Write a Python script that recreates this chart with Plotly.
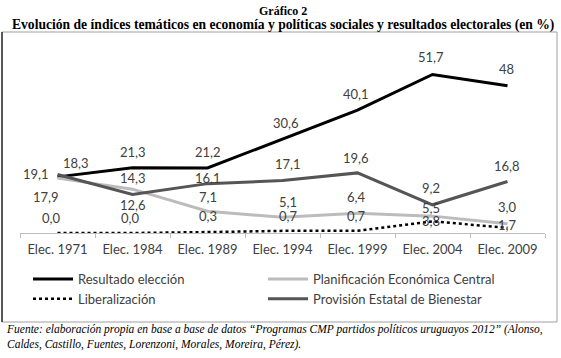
import plotly.graph_objects as go

categories = ["Elec. 1971", "Elec. 1984", "Elec. 1989", "Elec. 1994", "Elec. 1999", "Elec. 2004", "Elec. 2009"]
resultado = [18.3, 21.3, 21.2, 30.6, 40.1, 51.7, 48]
planificacion = [17.9, 14.3, 7.1, 5.1, 6.4, 5.5, 3.0]
liberalizacion = [0.0, 0.0, 0.3, 0.7, 0.7, 3.8, 1.7]
provision = [19.1, 12.6, 16.1, 17.1, 19.6, 9.2, 16.8]

resultado_txt = ["18,3", "21,3", "21,2", "30,6", "40,1", "51,7", "48"]
planificacion_txt = ["17,9", "14,3", "7,1", "5,1", "6,4", "5,5", "3,0"]
liberalizacion_txt = ["0,0", "0,0", "0,3", "0,7", "0,7", "3,8", "1,7"]
provision_txt = ["19,1", "12,6", "16,1", "17,1", "19,6", "9,2", "16,8"]

# label offsets (pixels) relative to each point
res_off = [(18, 14), (0, 16), (0, 16), (3, 16), (-2, 16), (-2, 17), (-1, 17)]
pla_off = [(-12, -19), (0, 11), (0, 14), (5, 15), (-2, 16), (-2, 8), (-1, 17)]
lib_off = [(-7, 15), (-3, 15), (0, 16), (5, 15), (-2, 15), (-2, 0), (-1, 3)]
pro_off = [(-22, 0), (0, -11), (0, 6), (5, 17), (-2, 15), (-2, 17), (-1, 15)]

LBL = dict(family="Lato, Noto Sans, sans-serif", size=13, color="#404040")
LEG_FONT = dict(family="Lato, Noto Sans, sans-serif", size=13, color="#404040")

fig = go.Figure()
fig.add_trace(go.Scatter(x=categories, y=resultado, mode="lines", name="Resultado elección",
                         line=dict(color="#000000", width=3), legend="legend"))
fig.add_trace(go.Scatter(x=categories, y=planificacion, mode="lines", name="Planificación Económica Central",
                         line=dict(color="#bcbcbc", width=3), legend="legend2"))
fig.add_trace(go.Scatter(x=categories, y=liberalizacion, mode="lines", name="Liberalización",
                         line=dict(color="#000000", width=2.5, dash="dot"), legend="legend"))
fig.add_trace(go.Scatter(x=categories, y=provision, mode="lines", name="Provisión Estatal de Bienestar",
                         line=dict(color="#555555", width=3), legend="legend2"))

annotations = []
for vals, txts, offs in [(resultado, resultado_txt, res_off), (planificacion, planificacion_txt, pla_off),
                         (liberalizacion, liberalizacion_txt, lib_off), (provision, provision_txt, pro_off)]:
    for c, v, t, (dx, dy) in zip(categories, vals, txts, offs):
        annotations.append(dict(x=c, y=v, xref="x", yref="y", text=t, showarrow=False,
                                xshift=dx, yshift=dy, font=LBL))

annotations.append(dict(x=0.5, y=1.0, xref="paper", yref="paper", yanchor="middle", yshift=49 - 11,
                        text="<b>Gráfico 2</b>", showarrow=False,
                        font=dict(family="Liberation Serif, serif", size=12, color="#000")))
annotations.append(dict(x=0.5, y=1.0, xref="paper", yref="paper", yanchor="middle", yshift=49 - 25,
                        text="<b>Evolución de índices temáticos en economía y políticas sociales y resultados electorales (en %)</b>",
                        showarrow=False, font=dict(family="Liberation Serif, serif", size=13.6, color="#000")))
annotations.append(dict(x=(4 - 20) / 525, y=(233 - 321) / 184, xref="paper", yref="paper",
                        xanchor="left", yanchor="top", align="left", showarrow=False,
                        text="<i>Fuente: elaboración propia en base a base de datos “Programas CMP partidos políticos uruguayos 2012” (Alonso,<br>Caldes, Castillo, Fuentes, Lorenzoni, Morales, Moreira, Pérez).</i>",
                        font=dict(family="Liberation Serif, serif", size=11.5, color="#000")))

shapes = [
    dict(type="rect", xref="paper", yref="paper", x0=(2 - 20) / 525, x1=(557 - 20) / 525,
         y0=(233 - 322) / 184, y1=(233 - 32) / 184, line=dict(color="#a0a0a0", width=1)),
    dict(type="line", xref="paper", yref="paper", x0=(2 - 20) / 525, x1=(2 - 20) / 525,
         y0=(233 - 322) / 184, y1=(233 - 32) / 184, line=dict(color="#303030", width=1.5)),
]

fig.update_layout(
    width=561, height=358,
    margin=dict(l=20, r=16, t=49, b=125, autoexpand=False),
    paper_bgcolor="white", plot_bgcolor="white",
    showlegend=True,
    legend=dict(orientation="v", x=(28 - 20) / 525, xanchor="left", y=(233 - 264) / 184, yanchor="top",
                itemwidth=40, font=LEG_FONT, traceorder="normal", bgcolor="rgba(0,0,0,0)"),
    legend2=dict(orientation="v", x=(263 - 20) / 525, xanchor="left", y=(233 - 264) / 184, yanchor="top",
                 itemwidth=40, font=LEG_FONT, traceorder="normal", bgcolor="rgba(0,0,0,0)"),
    xaxis=dict(type="category", range=[-0.5, 6.5], showgrid=False, showline=True, linecolor="#bfbfbf",
               ticks="outside", tickson="boundaries", ticklen=4, tickcolor="#bfbfbf", ticklabelstandoff=4,
               tickfont=dict(family="Lato, Noto Sans, sans-serif", size=13, color="#404040"), zeroline=False),
    yaxis=dict(range=[0, 60], visible=False),
    annotations=annotations,
    shapes=shapes,
)

fig.write_html("out.html", config={"displayModeBar": False},
               post_script="document.body.style.margin='0';document.body.style.padding='0';")
